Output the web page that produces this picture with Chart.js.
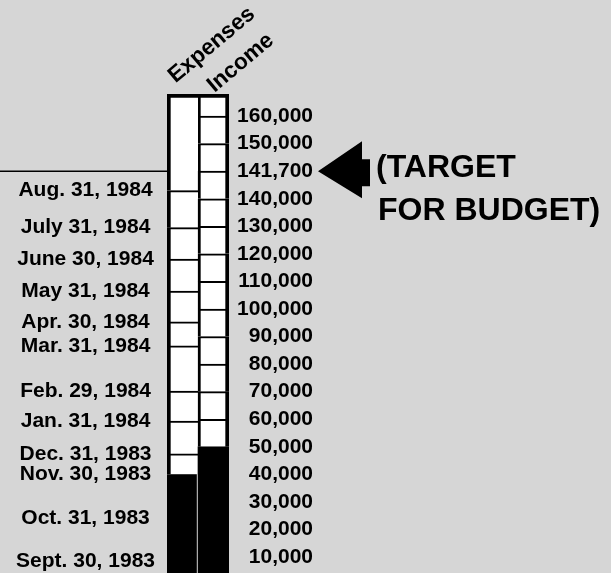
<!DOCTYPE html>
<html>
<head>
<meta charset="utf-8">
<title>Budget thermometer</title>
<script src="https://cdn.jsdelivr.net/npm/chart.js@4.4.1/dist/chart.umd.min.js"></script>
<style>
  body { margin: 0; background: #d6d6d6; }
  canvas { display: block; }
</style>
</head>
<body>
<canvas id="chart" width="611" height="573"></canvas>
<script>
// budget thermometer: expenses and income climbing toward the target

// first label gets an empty second line so it sits a little higher than the second one
const columns = [['Expenses', ''], 'Income'];
const totals = [40000, 50000];
const target = 141700;

const valueTicks = [10000, 20000, 30000, 40000, 50000, 60000, 70000, 80000, 90000, 100000,
  110000, 120000, 130000, 140000, 141700, 150000, 160000];

const dateLabels = ['Sept. 30, 1983', 'Oct. 31, 1983', 'Nov. 30, 1983', 'Dec. 31, 1983',
  'Jan. 31, 1984', 'Feb. 29, 1984', 'Mar. 31, 1984', 'Apr. 30, 1984', 'May 31, 1984',
  'June 30, 1984', 'July 31, 1984', 'Aug. 31, 1984'];
const dateLevels = [8500, 24000, 40000, 47400, 59300, 70200, 86600, 95300, 106500,
  118100, 129500, 140500];

const yMin = 4200;
const yMax = 168000;

const labelFont = { family: '"Liberation Sans", Arial, sans-serif', size: 21, weight: 'bold' };

// the printed scale is a ladder: every labelled amount gets the same rung height
const ladder = [0, ...valueTicks, 170000];

function toRung(v) {
  let i = 1;
  while (i < ladder.length - 1 && v > ladder[i]) i++;
  return i - 1 + (v - ladder[i - 1]) / (ladder[i] - ladder[i - 1]);
}

function fromRung(r) {
  const i = Math.max(0, Math.min(ladder.length - 2, Math.floor(r)));
  return ladder[i] + (r - i) * (ladder[i + 1] - ladder[i]);
}

class LadderScale extends Chart.LinearScale {
  getPixelForValue(value) {
    if (value === null || value === undefined || isNaN(value)) return NaN;
    const lo = toRung(this.min), hi = toRung(this.max);
    return this.getPixelForDecimal((toRung(value) - lo) / (hi - lo));
  }
  getValueForPixel(pixel) {
    const lo = toRung(this.min), hi = toRung(this.max);
    return fromRung(lo + this.getDecimalForPixel(pixel) * (hi - lo));
  }
}
LadderScale.id = 'ladder';
LadderScale.defaults = Chart.LinearScale.defaults;
Chart.register(LadderScale);

// white boxes between rungs, from the filled part up to the top of the tube
function segments(filled, levels) {
  const bounds = [filled, ...levels.filter(v => v > filled), yMax];
  const out = [];
  for (let i = 1; i < bounds.length; i++) out.push([bounds[i - 1], bounds[i]]);
  return out;
}

const expenseSegs = segments(totals[0], dateLevels);
const incomeSegs = segments(totals[1], valueTicks);

function rungBorder(ctx) {
  const raw = ctx.raw;
  return {
    top: raw && raw[1] >= yMax ? 4 : 2,
    left: ctx.dataIndex === 0 ? 4 : 3,
    right: ctx.dataIndex === 1 ? 4 : 0,
    bottom: 0
  };
}

const datasets = [{
  label: 'raised',
  data: totals.map(t => [yMin, t]),
  backgroundColor: '#000',
  borderColor: '#fff',
  borderWidth: ctx => ctx.dataIndex === 0 ? { right: 1.5 } : 0,
  borderSkipped: false,
  grouped: false,
  yAxisID: 'y'
}];

const n = Math.max(expenseSegs.length, incomeSegs.length);
for (let i = 0; i < n; i++) {
  datasets.push({
    label: 'rung ' + i,
    data: [expenseSegs[i] || null, incomeSegs[i] || null],
    backgroundColor: '#fff',
    borderColor: '#000',
    borderWidth: rungBorder,
    borderSkipped: false,
    grouped: false,
    yAxisID: 'y'
  });
}

// no extra room for half labels at the ends, the tube runs off the page
function noPadding(s) {
  s.paddingTop = 0;
  s.paddingBottom = 0;
  s.paddingLeft = 0;
  s.paddingRight = 0;
}

const targetPlugin = {
  id: 'target',
  beforeDraw(chart) {
    const ctx = chart.ctx;
    ctx.save();
    ctx.fillStyle = '#d6d6d6';
    ctx.fillRect(0, 0, chart.width, chart.height);
    ctx.restore();
  },
  afterDraw(chart) {
    const { ctx, chartArea, scales } = chart;
    const y = scales.y.getPixelForValue(target);
    const tip = scales.y.right + 5;
    ctx.save();
    ctx.strokeStyle = '#000';
    ctx.lineWidth = 1.5;
    ctx.beginPath();
    ctx.moveTo(0, y);
    ctx.lineTo(chartArea.left, y);
    ctx.stroke();

    ctx.fillStyle = '#000';
    ctx.beginPath();
    ctx.moveTo(tip, y);
    ctx.lineTo(tip + 44, y - 30);
    ctx.lineTo(tip + 44, y - 12);
    ctx.lineTo(tip + 52, y - 12);
    ctx.lineTo(tip + 52, y + 15);
    ctx.lineTo(tip + 44, y + 15);
    ctx.lineTo(tip + 44, y + 27);
    ctx.closePath();
    ctx.fill();

    ctx.font = 'bold 32px "Liberation Sans", Arial, sans-serif';
    ctx.textBaseline = 'alphabetic';
    ctx.textAlign = 'left';
    ctx.fillText('(TARGET', tip + 58, y + 6);
    ctx.fillText('FOR BUDGET)', tip + 60, y + 49);
    ctx.restore();
  }
};

new Chart(document.getElementById('chart'), {
  type: 'bar',
  data: { labels: columns, datasets: datasets },
  options: {
    responsive: false,
    animation: false,
    devicePixelRatio: 1,
    events: [],
    barPercentage: 1,
    categoryPercentage: 1,
    layout: { padding: { left: 0, right: 298, top: 0, bottom: 0 } },
    plugins: { legend: { display: false }, tooltip: { enabled: false } },
    scales: {
      x: {
        position: 'top',
        grid: { display: false, drawTicks: false },
        border: { display: false },
        ticks: { autoSkip: false, minRotation: 40, maxRotation: 40, padding: 1, labelOffset: 5,
          color: '#000', font: { ...labelFont, size: 22.5, lineHeight: 0.55 } },
        afterFit: s => { s.height = 94; noPadding(s); }
      },
      dates: {
        type: 'ladder',
        axis: 'y',
        position: 'left',
        min: yMin,
        max: yMax,
        bounds: 'data',
        grid: { display: false, drawTicks: false },
        border: { display: false },
        afterBuildTicks: s => { s.ticks = dateLevels.map(v => ({ value: v })); },
        ticks: { autoSkip: false, crossAlign: 'center', padding: 12, color: '#000', font: labelFont,
          callback: (v, i) => dateLabels[i] },
        afterFit: s => { s.width = 167; noPadding(s); }
      },
      y: {
        type: 'ladder',
        position: 'right',
        min: yMin,
        max: yMax,
        bounds: 'data',
        grid: { display: false, drawTicks: false },
        border: { display: false },
        afterBuildTicks: s => { s.ticks = valueTicks.map(v => ({ value: v })); },
        ticks: { autoSkip: false, crossAlign: 'far', padding: 8, color: '#000', font: labelFont,
          callback: v => v.toLocaleString('en-US') },
        afterFit: s => { s.width = 84; noPadding(s); }
      }
    }
  },
  plugins: [targetPlugin]
});
</script>
</body>
</html>
